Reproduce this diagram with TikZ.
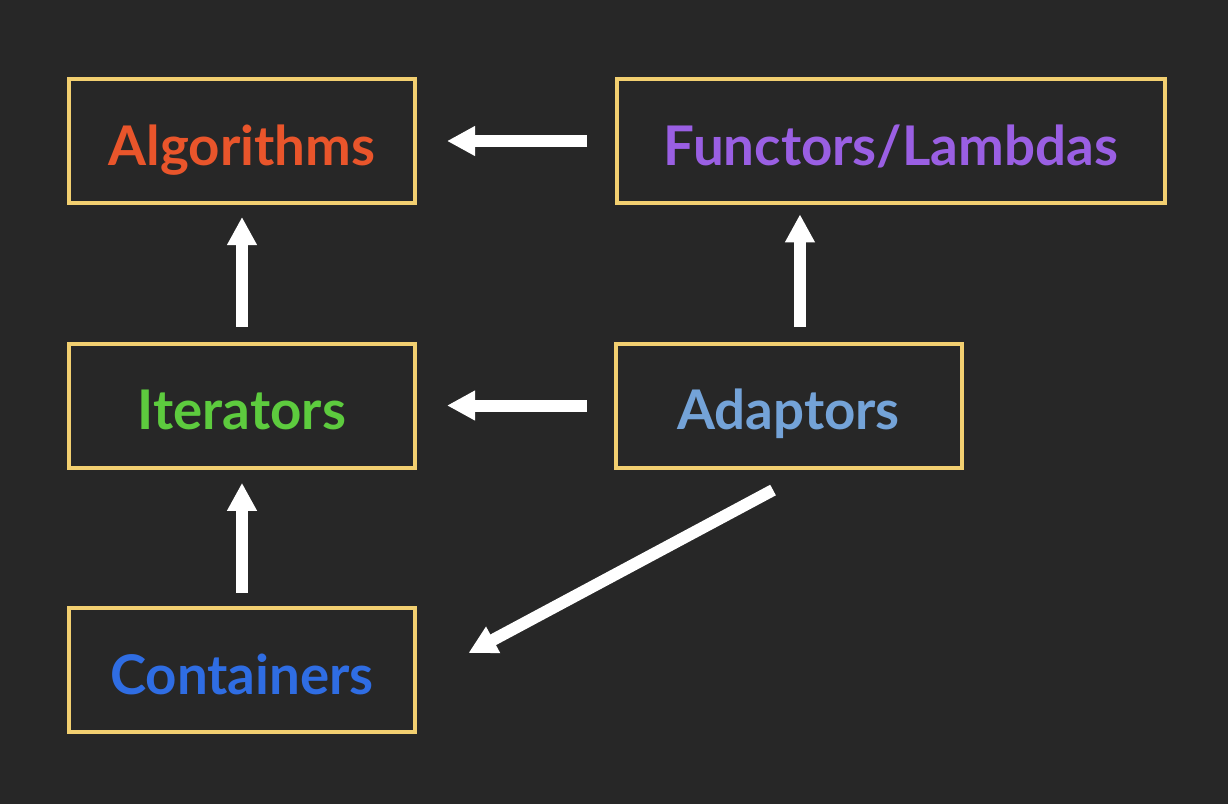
\documentclass[tikz,border=0pt]{standalone}
\usepackage{fontspec}
\setmainfont{Lato}
\usepackage{xcolor}
\usetikzlibrary{positioning,calc,arrows.meta}
\definecolor{slateBG}{HTML}{272727}
\definecolor{boxGold}{HTML}{F2CF70}
\definecolor{algoRed}{HTML}{E9552B}
\definecolor{functPurple}{HTML}{9A5FE3}
\definecolor{iterGreen}{HTML}{5DCB3E}
\definecolor{adaptBlue}{HTML}{74A3D8}
\definecolor{contBlue}{HTML}{2F6DE3}

\begin{document}
\begin{tikzpicture}[x=0.75pt,y=-0.75pt,
  stlbox/.style={draw=boxGold,line width=3pt,minimum width=259.5pt,minimum height=93pt,
    inner sep=0pt,text height=36pt,text depth=0pt,font=\fontsize{41}{48}\selectfont\bfseries},
  bigarrow/.style={draw=white,line width=9pt,-{Triangle[length=21pt,width=21pt]}}]
  % background
  \fill[slateBG] (0,0) rectangle (1228,804);
  \useasboundingbox (0,0) rectangle (1228,804);
  % boxes
  \node[stlbox,text=algoRed] (algo) at (242,141) {Algorithms};
  \node[stlbox,text=functPurple,minimum width=411pt] (funct) at (891,141) {Functors/Lambdas};
  \node[stlbox,text=iterGreen] (iter) at (242,405.5) {Iterators};
  \node[stlbox,text=adaptBlue] (adapt) at (788.5,405.5) {Adaptors};
  \node[stlbox,text=contBlue] (cont) at (242,670) {Containers};
  % arrows
  \draw[bigarrow,shorten <=21pt,shorten >=22.5pt] (funct) -- (algo);
  \draw[bigarrow,shorten <=20pt,shorten >=22.5pt] (adapt) -- (iter);
  \draw[bigarrow,shorten <=11pt,shorten >=9pt] (iter) -- (algo);
  \draw[bigarrow,shorten <=10pt,shorten >=10pt] (cont) -- (iter);
  \draw[bigarrow,shorten <=11pt,shorten >=7pt] ([xshift=8.6pt]adapt.north) -- ([xshift=8.6pt]adapt.north |- funct.south);
  \draw[bigarrow] ([xshift=-11.6pt,yshift=-15.4pt]adapt.south) -- ([xshift=38.6pt,yshift=12.75pt]cont.east);
\end{tikzpicture}
\end{document}
